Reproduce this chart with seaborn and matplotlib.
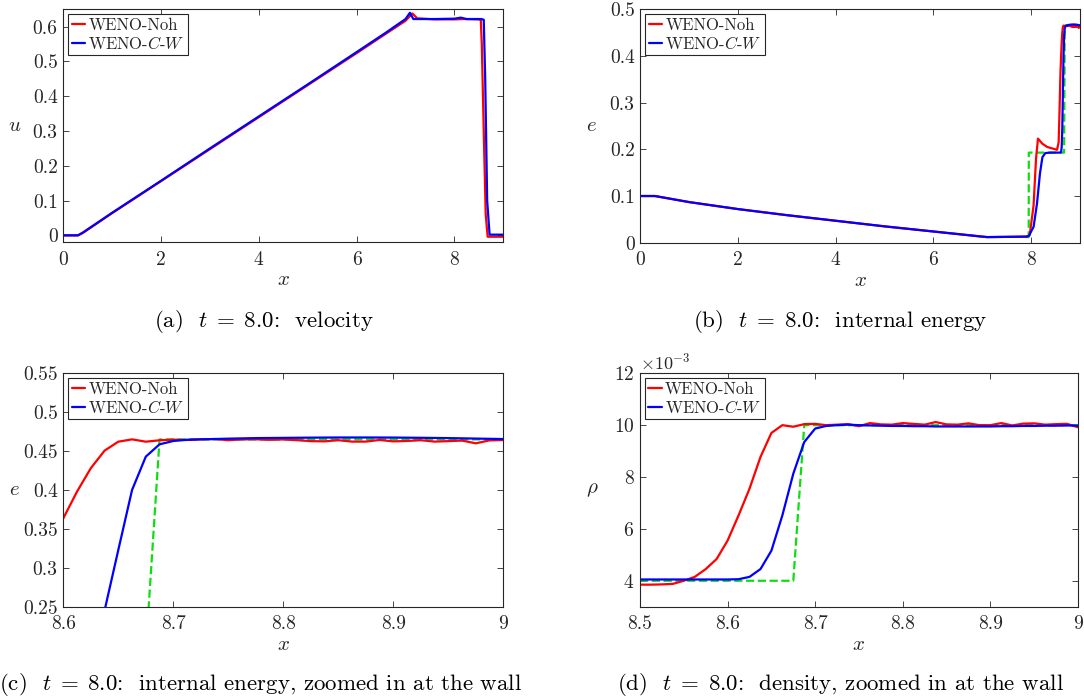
import numpy as np
import pandas as pd
import matplotlib
matplotlib.use("Agg")
import matplotlib.pyplot as plt
import seaborn as sns
from matplotlib.ticker import FuncFormatter, ScalarFormatter

# ---------------- data ----------------
# (a) velocity
u_x_noh = [0, 0.3, 0.4, 1, 2, 3, 4, 5, 6, 6.6, 7.0, 7.14, 7.24, 7.6, 8.0, 8.2, 8.5, 8.54, 8.56, 8.6, 8.64, 8.68, 9.0]
u_noh = [0, 0, 0.007, 0.064, 0.156, 0.248, 0.340, 0.432, 0.524, 0.580, 0.617, 0.638, 0.624, 0.621, 0.621, 0.622, 0.621, 0.619, 0.55, 0.30, 0.06, -0.004, -0.004]
u_x_cw = [0, 0.3, 0.4, 1, 2, 3, 4, 5, 6, 6.6, 7.0, 7.09, 7.16, 7.6, 8.0, 8.13, 8.25, 8.55, 8.6, 8.63, 8.67, 8.72, 9.0]
u_cw = [0, 0, 0.008, 0.065, 0.157, 0.250, 0.342, 0.434, 0.527, 0.583, 0.622, 0.640, 0.622, 0.622, 0.623, 0.626, 0.622, 0.622, 0.620, 0.45, 0.10, 0.002, 0.002]

# (b)/(c) internal energy
e_x_noh = [0, 0.3, 1, 2, 3, 4, 5, 6, 7, 7.1, 7.9, 7.97, 8.05, 8.1, 8.14, 8.23, 8.33, 8.53, 8.5625, 8.575, 8.5875,
           8.6, 8.6125, 8.625, 8.6375, 8.65, 8.6625, 8.675, 8.6875, 8.7, 8.7125, 8.725, 8.7375, 8.75, 8.7625,
           8.775, 8.7875, 8.8, 8.8125, 8.825, 8.8375, 8.85, 8.8625, 8.875, 8.8875, 8.9, 8.9125, 8.925, 8.9375,
           8.95, 8.9625, 8.975, 8.9875, 9.0]
e_noh = [0.1, 0.1, 0.087, 0.072, 0.059, 0.047, 0.035, 0.024, 0.013, 0.012, 0.013, 0.016, 0.08, 0.18, 0.223, 0.212, 0.205, 0.199, 0.215, 0.26, 0.31,
         0.3636, 0.398, 0.428, 0.4506, 0.4621, 0.4651, 0.4621, 0.4639, 0.4647, 0.4643, 0.4652, 0.4655, 0.4640, 0.4650,
         0.4652, 0.4645, 0.4650, 0.4640, 0.4628, 0.4625, 0.4640, 0.4622, 0.4622, 0.4643, 0.4625, 0.4630, 0.4640, 0.4622,
         0.4628, 0.4635, 0.4600, 0.4638, 0.4642]
e_x_cw = [0, 0.3, 1, 2, 3, 4, 5, 6, 7, 7.1, 7.9, 7.95, 8.05, 8.12, 8.18, 8.23, 8.29, 8.4, 8.5, 8.6, 8.6125, 8.625,
          8.6375, 8.65, 8.6625, 8.675, 8.6875, 8.7, 8.7125, 8.725, 8.75, 8.775, 8.8, 8.825, 8.85, 8.875, 8.9,
          8.925, 8.95, 8.975, 9.0]
e_cw = [0.1, 0.1, 0.087, 0.072, 0.059, 0.047, 0.035, 0.024, 0.013, 0.012, 0.013, 0.014, 0.034, 0.084, 0.148, 0.183, 0.192, 0.193, 0.193, 0.193, 0.194, 0.205,
        0.245, 0.3229, 0.40, 0.4429, 0.4587, 0.463, 0.4645, 0.4651, 0.4660, 0.4667, 0.4670, 0.4673, 0.4675, 0.4675, 0.4674,
        0.4671, 0.4667, 0.4661, 0.4655]
e_x_exact = [7.9, 7.95, 7.952, 8.675, 8.6875, 9.0]
e_exact = [0.012, 0.012, 0.193, 0.193, 0.465, 0.465]

# (d) density
rho_x = [8.5, 8.5125, 8.525, 8.5375, 8.55, 8.5625, 8.575, 8.5875, 8.6, 8.6125, 8.625, 8.6375, 8.65, 8.6625,
         8.675, 8.6875, 8.7, 8.7125, 8.725, 8.7375, 8.75, 8.7625, 8.775, 8.7875, 8.8, 8.8125, 8.825, 8.8375,
         8.85, 8.8625, 8.875, 8.8875, 8.9, 8.9125, 8.925, 8.9375, 8.95, 8.9625, 8.975, 8.9875, 9.0]
rho_noh = [3.85e-3, 3.85e-3, 3.86e-3, 3.88e-3, 4.0e-3, 4.15e-3, 4.45e-3, 4.84e-3, 5.55e-3, 6.52e-3, 7.55e-3, 8.77e-3, 9.70e-3, 10.0e-3,
           9.94e-3, 10.04e-3, 10.05e-3, 10.0e-3, 10.02e-3, 10.04e-3, 9.96e-3, 10.08e-3, 10.03e-3, 10.02e-3, 10.08e-3, 10.05e-3, 10.02e-3, 10.12e-3,
           10.03e-3, 10.02e-3, 10.07e-3, 10.0e-3, 10.0e-3, 10.08e-3, 9.99e-3, 10.06e-3, 10.07e-3, 10.02e-3, 10.04e-3, 10.05e-3, 9.92e-3]
rho_cw = [4.05e-3, 4.05e-3, 4.05e-3, 4.05e-3, 4.05e-3, 4.05e-3, 4.05e-3, 4.05e-3, 4.05e-3, 4.06e-3, 4.15e-3, 4.45e-3, 5.16e-3, 6.52e-3,
          8.13e-3, 9.35e-3, 9.87e-3, 9.97e-3, 10.0e-3, 10.02e-3, 10.0e-3, 9.99e-3, 9.98e-3, 9.97e-3, 9.97e-3, 9.96e-3, 9.96e-3, 9.95e-3,
          9.95e-3, 9.95e-3, 9.95e-3, 9.95e-3, 9.95e-3, 9.96e-3, 9.96e-3, 9.97e-3, 9.97e-3, 9.98e-3, 9.98e-3, 9.99e-3, 9.98e-3]
rho_x_exact = [8.5, 8.675, 8.6875, 9.0]
rho_exact = [4.0e-3, 4.0e-3, 10.0e-3, 10.0e-3]

labels = ["WENO-Noh", "WENO-$C$-$W$"]
captions = [r"(a)  $t\;=\;8.0$:  velocity",
            r"(b)  $t\;=\;8.0$:  internal energy",
            r"(c)  $t\;=\;8.0$:  internal energy, zoomed in at the wall",
            r"(d)  $t\;=\;8.0$:  density, zoomed in at the wall"]

# ---------------- style ----------------
sns.set_theme(style="ticks")
plt.rcParams.update({
    "font.family": "serif",
    "font.serif": ["cmr10"],
    "mathtext.fontset": "cm",
    "axes.formatter.use_mathtext": True,
    "axes.unicode_minus": False,
    "axes.edgecolor": "#262626",
    "axes.linewidth": 0.8,
    "xtick.color": "#262626",
    "ytick.color": "#262626",
    "xtick.labelsize": 14,
    "ytick.labelsize": 14,
    "xtick.direction": "in",
    "ytick.direction": "in",
    "xtick.top": True,
    "ytick.right": True,
    "xtick.major.size": 4,
    "ytick.major.size": 4,
    "xtick.major.width": 0.6,
    "ytick.major.width": 0.6,
    "xtick.major.pad": 6,
    "ytick.major.pad": 4,
    "axes.labelsize": 15,
    "axes.labelcolor": "#262626",
})

RED, BLUE, GREEN = "#ff0000", "#0000ff", "#10dd10"
LW = 1.6

fig = plt.figure(figsize=(10.84, 7.0), dpi=100)
W, H = 1084.0, 700.0

def add_ax(l, r, t, b):
    return fig.add_axes([l / W, 1 - b / H, (r - l) / W, (b - t) / H])

ax_a = add_ax(63.3, 503.3, 9.3, 242.3)
ax_b = add_ax(640.3, 1080, 9.3, 242.7)
ax_c = add_ax(63.3, 503.3, 373.3, 606.7)
ax_d = add_ax(640.0, 1078, 373.3, 606.7)

gfmt = FuncFormatter(lambda v, p: "%g" % round(v, 6))

def draw(ax, xn, yn, xc, yc, xe=None, ye=None):
    if xe is not None:
        sns.lineplot(x=xe, y=ye, ax=ax, color=GREEN, lw=LW, linestyle="--", sort=False, estimator=None, legend=False)
    sns.lineplot(x=xn, y=yn, ax=ax, color=RED, lw=LW, label=labels[0], sort=False, estimator=None)
    sns.lineplot(x=xc, y=yc, ax=ax, color=BLUE, lw=LW, label=labels[1], sort=False, estimator=None)
    leg = ax.legend(loc="upper left", fontsize=12, handlelength=0.8, handletextpad=0.2, borderpad=0.2,
                    labelspacing=0.1, borderaxespad=0.3, fancybox=False, framealpha=1)
    leg.get_frame().set_edgecolor("#262626")
    leg.get_frame().set_linewidth(0.8)
    for s in ax.spines.values():
        s.set_visible(True)
    ax.set_xlabel("$x$", va="center")
    ax.xaxis.set_label_coords(0.5, -0.163)

# (a)
draw(ax_a, u_x_noh, u_noh, u_x_cw, u_cw)
ax_a.set_xlim(0, 9); ax_a.set_ylim(-0.02, 0.65)
ax_a.set_xticks([0, 2, 4, 6, 8]); ax_a.set_yticks([0, 0.1, 0.2, 0.3, 0.4, 0.5, 0.6])
ax_a.xaxis.set_major_formatter(gfmt); ax_a.yaxis.set_major_formatter(gfmt)
ax_a.set_ylabel("$u$", rotation=0)

# (b)
draw(ax_b, e_x_noh, e_noh, e_x_cw, e_cw, e_x_exact, e_exact)
ax_b.set_xlim(0, 9); ax_b.set_ylim(0, 0.5)
ax_b.set_xticks([0, 2, 4, 6, 8]); ax_b.set_yticks([0, 0.1, 0.2, 0.3, 0.4, 0.5])
ax_b.xaxis.set_major_formatter(gfmt); ax_b.yaxis.set_major_formatter(gfmt)
ax_b.set_ylabel("$e$", rotation=0)

# (c)
draw(ax_c, e_x_noh, e_noh, e_x_cw, e_cw, e_x_exact, e_exact)
ax_c.set_xlim(8.6, 9); ax_c.set_ylim(0.25, 0.55)
ax_c.set_xticks([8.6, 8.7, 8.8, 8.9, 9.0]); ax_c.set_yticks([0.25, 0.3, 0.35, 0.4, 0.45, 0.5, 0.55])
ax_c.xaxis.set_major_formatter(gfmt); ax_c.yaxis.set_major_formatter(gfmt)
ax_c.set_ylabel("$e$", rotation=0)

# (d)
draw(ax_d, rho_x, rho_noh, rho_x, rho_cw, rho_x_exact, rho_exact)
ax_d.set_xlim(8.5, 9); ax_d.set_ylim(3e-3, 12e-3)
ax_d.set_xticks([8.5, 8.6, 8.7, 8.8, 8.9, 9.0]); ax_d.set_yticks([4e-3, 6e-3, 8e-3, 10e-3, 12e-3])
ax_d.xaxis.set_major_formatter(gfmt)
sf = ScalarFormatter(useMathText=True)
sf.set_scientific(True)
sf.set_powerlimits((-3, -3))
ax_d.yaxis.set_major_formatter(sf)
ax_d.yaxis.get_offset_text().set_fontsize(13)
ax_d.set_ylabel(r"$\rho$", rotation=0)

for ax in (ax_a, ax_b, ax_c, ax_d):
    ax.yaxis.set_label_coords(-0.11, 0.5)
    ax.yaxis.label.set_verticalalignment("center")

# captions
fig.text(264 / W, 1 - 321 / H, captions[0], ha="center", va="center", fontsize=16.5, color="black")
fig.text(840 / W, 1 - 321 / H, captions[1], ha="center", va="center", fontsize=16.5, color="black")
fig.text(261 / W, 1 - 684 / H, captions[2], ha="center", va="center", fontsize=16.5, color="black")
fig.text(840 / W, 1 - 684 / H, captions[3], ha="center", va="center", fontsize=16.5, color="black")

fig.savefig("out.png", dpi=100)
